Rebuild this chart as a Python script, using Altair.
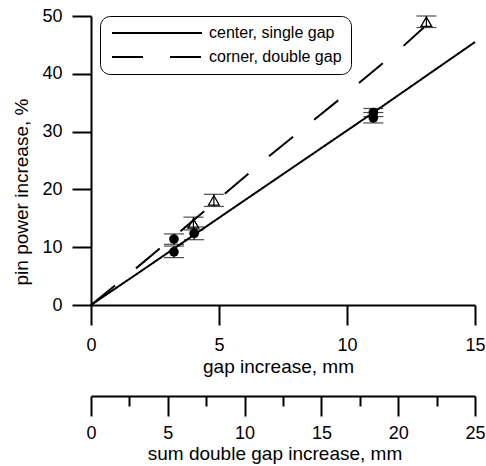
import altair as alt
import pandas as pd

# ---------------- data ----------------
series_names = ["center, single gap", "corner, double gap"]

solid_x = [0, 2.0, 5.5, 11.0, 15.0]
solid_y = [0, 6.0, 16.6, 33.2, 45.5]

dash_x = [0, 1.72, 4.34, 6.91, 9.57, 12.15, 13.0]
dash_y = [0, 6.2, 15.9, 25.6, 35.1, 44.6, 48.0]

circ_x = [3.24, 3.24, 4.03, 11.03, 11.03]
circ_y = [11.4, 9.2, 12.4, 33.3, 32.4]
circ_err = [0.9, 1.0, 1.1, 0.7, 0.9]

tri_x = [4.0, 4.8, 13.1]
tri_y = [14.1, 18.1, 49.0]
tri_err = [1.1, 1.05, 1.0]

x_ticks = [0, 5, 10, 15]
y_ticks = [0, 10, 20, 30, 40, 50]
sum_major = [0, 5, 10, 15, 20, 25]
sum_minor = [2.5, 7.5, 12.5, 17.5, 22.5]

x_title = "gap increase, mm"
y_title = "pin power increase, %"
sum_title = "sum double gap increase, mm"

# ---------------- tables ----------------
line_df = pd.concat([
    pd.DataFrame({"x": solid_x, "y": solid_y, "series": series_names[0],
                  "order": list(range(len(solid_x)))}),
    pd.DataFrame({"x": dash_x, "y": dash_y, "series": series_names[1],
                  "order": list(range(len(dash_x)))}),
], ignore_index=True)

pts = pd.concat([
    pd.DataFrame({"x": circ_x, "y": circ_y, "err": circ_err, "kind": "circle"}),
    pd.DataFrame({"x": tri_x, "y": tri_y, "err": tri_err, "kind": "triangle"}),
], ignore_index=True)
pts["lo"] = pts["y"] - pts["err"]
pts["hi"] = pts["y"] + pts["err"]

FONT = "Liberation Sans"

xscale = alt.Scale(domain=[0, 15], nice=False, zero=True)
yscale = alt.Scale(domain=[0, 50], nice=False, zero=True)

xaxis = alt.Axis(values=x_ticks, title=x_title, tickSize=20, labelPadding=11,
                 labelFlush=False, titleX=187, titleY=67, titleAlign="center",
                 titleBaseline="alphabetic")
yaxis = alt.Axis(values=y_ticks, title=y_title, tickSize=19, labelPadding=10,
                 labelFlush=False, titleX=-64, titleY=175.5, titleAlign="center",
                 titleBaseline="alphabetic", titleAngle=270)


def X(field):
    return alt.X(f"{field}:Q", scale=xscale, axis=xaxis)


def Y(field):
    return alt.Y(f"{field}:Q", scale=yscale, axis=yaxis)


lines = alt.Chart(line_df).mark_line(color="black", strokeWidth=2).encode(
    x=X("x"),
    y=Y("y"),
    order="order:Q",
    strokeDash=alt.StrokeDash(
        "series:N",
        scale=alt.Scale(domain=series_names, range=[[1, 0], [31, 27]]),
        legend=alt.Legend(
            title=None, orient="none", legendX=9, legendY=0,
            symbolType="M-10,0H10", symbolSize=81, symbolOffset=40,
            symbolStrokeWidth=2, symbolStrokeColor="black",
            symbolFillColor="transparent",
            labelFont=FONT, labelFontSize=16, labelColor="black",
            labelOffset=44, padding=9, rowPadding=8,
            strokeColor="black", cornerRadius=10, fillColor="white",
        ),
    ),
)

triangles = alt.Chart(pts[pts.kind == "triangle"]).mark_point(
    shape="triangle-up", filled=False, color="black", strokeWidth=1.3,
    size=115, opacity=1
).encode(x=X("x"), y=Y("y"))

circles = alt.Chart(pts[pts.kind == "circle"]).mark_point(
    shape="circle", filled=True, color="black", size=95, opacity=1
).encode(x=X("x"), y=Y("y"))

err_rule = alt.Chart(pts).mark_rule(color="black", strokeWidth=1.2).encode(
    x=X("x"), y=Y("lo"), y2="hi:Q")
cap_lo = alt.Chart(pts).mark_tick(orient="horizontal", size=20, thickness=1.2,
                                  color="black").encode(x=X("x"), y=Y("lo"))
cap_hi = alt.Chart(pts).mark_tick(orient="horizontal", size=20, thickness=1.2,
                                  color="black").encode(x=X("x"), y=Y("hi"))

main = alt.layer(lines, triangles, circles, err_rule, cap_lo, cap_hi)

sec_scale = alt.Scale(domain=[0, 25], nice=False, zero=True)
sec_major = alt.Chart(pd.DataFrame({"s": sum_major})).mark_point(opacity=0).encode(
    x=alt.X("s:Q", scale=sec_scale,
            axis=alt.Axis(orient="bottom", offset=91, values=sum_major,
                          tickSize=20, labelPadding=8, labelFlush=False,
                          title=sum_title, titleX=183.5, titleY=63,
                          titleAlign="center", titleBaseline="alphabetic"))
)
sec_minor = alt.Chart(pd.DataFrame({"s": sum_minor})).mark_point(opacity=0).encode(
    x=alt.X("s:Q", scale=sec_scale,
            axis=alt.Axis(orient="bottom", offset=91, values=sum_minor,
                          tickSize=10, labels=False, domain=False, title=None))
)

chart = alt.layer(main, sec_major, sec_minor).resolve_scale(
    x="independent"
).properties(
    width=384, height=289, autosize="none",
    padding={"left": 91, "top": 16, "right": 11, "bottom": 161},
).configure(
    font=FONT, background="white"
).configure_view(
    stroke=None
).configure_axis(
    grid=False, labelFont=FONT, titleFont=FONT, labelFontSize=18,
    titleFontSize=19, titleFontWeight="normal", labelColor="black",
    titleColor="black", domainColor="black", tickColor="black",
    domainWidth=2, tickWidth=2,
)

chart.save("out.html", embed_options={"renderer": "svg", "actions": False})
